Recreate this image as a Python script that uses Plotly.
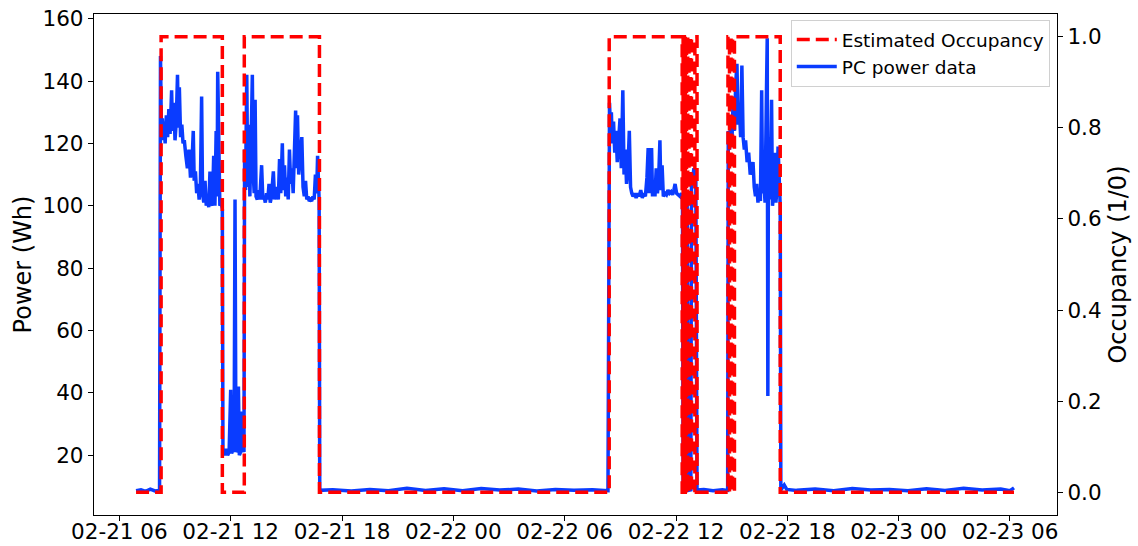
import pandas as pd
import plotly.graph_objects as go

YEAR = "2020-"

# ---- PC power data (time, Wh) ----
power_times = [
    "02-21 06:54", "02-21 07:10", "02-21 07:25", "02-21 07:40", "02-21 07:55", "02-21 08:10",
    "02-21 08:13", "02-21 08:16", "02-21 08:19", "02-21 08:22", "02-21 08:25", "02-21 08:28",
    "02-21 08:32", "02-21 08:36", "02-21 08:40", "02-21 08:44", "02-21 08:49", "02-21 08:52",
    "02-21 08:56", "02-21 09:00", "02-21 09:04", "02-21 09:08", "02-21 09:11", "02-21 09:14",
    "02-21 09:18", "02-21 09:22", "02-21 09:26", "02-21 09:30", "02-21 09:35", "02-21 09:40",
    "02-21 09:45", "02-21 09:50", "02-21 09:55", "02-21 09:59", "02-21 10:02", "02-21 10:06",
    "02-21 10:10", "02-21 10:14", "02-21 10:18", "02-21 10:22", "02-21 10:26", "02-21 10:29",
    "02-21 10:33", "02-21 10:37", "02-21 10:41", "02-21 10:45", "02-21 10:49", "02-21 10:53",
    "02-21 10:57", "02-21 11:01", "02-21 11:05", "02-21 11:09", "02-21 11:13", "02-21 11:16",
    "02-21 11:18", "02-21 11:21", "02-21 11:25", "02-21 11:29", "02-21 11:33",
    "02-21 11:35", "02-21 11:40", "02-21 11:45", "02-21 11:50", "02-21 11:55", "02-21 12:00",
    "02-21 12:03", "02-21 12:07", "02-21 12:11", "02-21 12:14", "02-21 12:17", "02-21 12:21",
    "02-21 12:25", "02-21 12:28", "02-21 12:32", "02-21 12:36", "02-21 12:40", "02-21 12:43",
    "02-21 12:45", "02-21 12:48", "02-21 12:52", "02-21 12:55", "02-21 12:59", "02-21 13:02",
    "02-21 13:06", "02-21 13:10", "02-21 13:13", "02-21 13:16", "02-21 13:19", "02-21 13:22",
    "02-21 13:26", "02-21 13:30", "02-21 13:34", "02-21 13:40", "02-21 13:44", "02-21 13:48",
    "02-21 13:52", "02-21 13:56", "02-21 14:00", "02-21 14:04", "02-21 14:08", "02-21 14:12",
    "02-21 14:18", "02-21 14:22", "02-21 14:26", "02-21 14:30", "02-21 14:34", "02-21 14:38",
    "02-21 14:42", "02-21 14:47", "02-21 14:50", "02-21 14:54", "02-21 14:58", "02-21 15:02",
    "02-21 15:06", "02-21 15:10", "02-21 15:14", "02-21 15:18", "02-21 15:22", "02-21 15:26",
    "02-21 15:30", "02-21 15:33", "02-21 15:36", "02-21 15:40", "02-21 15:45", "02-21 15:50",
    "02-21 15:54", "02-21 15:58", "02-21 16:02", "02-21 16:06", "02-21 16:10", "02-21 16:14",
    "02-21 16:18", "02-21 16:22", "02-21 16:26", "02-21 16:30", "02-21 16:34", "02-21 16:38",
    "02-21 16:41", "02-21 16:44", "02-21 16:46",
    "02-21 16:48", "02-21 17:30", "02-21 18:30", "02-21 19:30", "02-21 20:30", "02-21 21:30",
    "02-21 22:30", "02-21 23:30", "02-22 00:30", "02-22 01:30", "02-22 02:30", "02-22 03:30",
    "02-22 04:30", "02-22 05:30", "02-22 06:30", "02-22 07:30", "02-22 08:20",
    "02-22 08:25", "02-22 08:28", "02-22 08:31", "02-22 08:34", "02-22 08:38", "02-22 08:42",
    "02-22 08:46", "02-22 08:50", "02-22 08:54", "02-22 08:59", "02-22 09:03", "02-22 09:08",
    "02-22 09:12", "02-22 09:16", "02-22 09:20", "02-22 09:25", "02-22 09:29", "02-22 09:33",
    "02-22 09:37", "02-22 09:41", "02-22 09:46", "02-22 09:51", "02-22 09:56", "02-22 10:01",
    "02-22 10:06", "02-22 10:11", "02-22 10:16", "02-22 10:21", "02-22 10:26", "02-22 10:30",
    "02-22 10:33", "02-22 10:37", "02-22 10:41", "02-22 10:44", "02-22 10:48", "02-22 10:52",
    "02-22 10:56", "02-22 11:00", "02-22 11:04", "02-22 11:08", "02-22 11:11", "02-22 11:15",
    "02-22 11:19", "02-22 11:24", "02-22 11:29", "02-22 11:34", "02-22 11:39", "02-22 11:44",
    "02-22 11:49", "02-22 11:53", "02-22 11:57", "02-22 12:02", "02-22 12:08", "02-22 12:13",
    "02-22 12:18", "02-22 12:21",
    "02-22 12:23", "02-22 12:29", "02-22 12:31", "02-22 12:36", "02-22 12:39", "02-22 12:48",
    "02-22 12:50", "02-22 12:58", "02-22 13:04", "02-22 13:08",
    "02-22 13:30", "02-22 14:00", "02-22 14:30", "02-22 14:47",
    "02-22 14:49", "02-22 14:53", "02-22 14:57", "02-22 15:01", "02-22 15:05", "02-22 15:09",
    "02-22 15:13", "02-22 15:17", "02-22 15:21", "02-22 15:25", "02-22 15:29", "02-22 15:33",
    "02-22 15:37", "02-22 15:41", "02-22 15:45", "02-22 15:50", "02-22 15:55", "02-22 16:00",
    "02-22 16:05", "02-22 16:09", "02-22 16:13", "02-22 16:17", "02-22 16:21", "02-22 16:25",
    "02-22 16:29", "02-22 16:33", "02-22 16:37", "02-22 16:40", "02-22 16:44", "02-22 16:48",
    "02-22 16:52", "02-22 16:55", "02-22 16:57", "02-22 16:59", "02-22 17:02", "02-22 17:05",
    "02-22 17:09", "02-22 17:12", "02-22 17:16", "02-22 17:20", "02-22 17:23", "02-22 17:27",
    "02-22 17:30", "02-22 17:34", "02-22 17:37",
    "02-22 17:39", "02-22 17:50", "02-22 17:58", "02-22 18:30", "02-22 19:30", "02-22 20:30",
    "02-22 21:30", "02-22 22:30", "02-22 23:30", "02-23 00:30", "02-23 01:30", "02-23 02:30",
    "02-23 03:30", "02-23 04:30", "02-23 05:30", "02-23 06:00", "02-23 06:13",
]
power_values = [
    8.6, 8.9, 8.4, 9.1, 8.5, 8.7,
    148, 124, 128, 121, 127, 120,
    129, 122, 131, 123, 137, 124,
    133, 121, 127, 142, 125, 138,
    122, 126, 120, 121, 116, 112,
    118, 109, 114, 124, 108, 111,
    104, 107, 102, 106, 135, 104,
    101, 108, 100, 103, 99.5, 111,
    101, 100, 116, 100, 124, 103,
    143, 112, 100, 101, 99,
    21, 20, 22, 20, 21, 41,
    20.5, 22, 21, 102, 21, 22,
    42, 20, 21, 34, 22, 21,
    118, 105, 142, 106, 126, 103,
    120, 142, 110, 104, 134, 103,
    102, 105, 102, 113, 102, 103,
    101, 104, 102, 107, 101, 103,
    111, 102, 104, 106, 102, 115,
    104, 120, 105, 113, 103, 109,
    102, 118, 107, 112, 104, 120,
    130.5, 112, 129, 110, 115, 122,
    106, 103, 108, 102, 103, 101.5,
    102, 101.5, 103, 102, 110, 104,
    116, 103, 102,
    8.7, 8.9, 8.5, 9.0, 8.6, 9.4,
    8.7, 9.2, 8.6, 9.3, 8.8, 9.1,
    8.5, 9.0, 8.7, 8.9, 8.6,
    133, 125, 130, 120, 127, 117,
    124, 114, 121, 128, 112, 137,
    110, 118, 107, 113, 124, 106,
    104, 103, 104, 102.5, 104, 103,
    105, 102.5, 104, 103, 109, 118.5,
    104, 110, 118.5, 103, 106, 103,
    112, 104, 109, 121, 105, 113,
    103, 104, 103.5, 105, 104, 104.5,
    103.5, 105, 107, 104, 103.5, 103,
    104, 103,
    8.8, 9.0, 104, 105, 8.7, 8.9,
    106, 112, 110, 8.8,
    9.0, 8.6, 8.9, 8.7,
    124, 118, 128, 121, 135, 124,
    139, 145.5, 126, 131, 122, 145,
    122, 118, 121, 114, 117, 110,
    112, 114, 106, 103, 107, 101,
    104, 101.5, 137, 104, 108, 101,
    133, 153.7, 39, 122, 102, 110,
    134, 100, 104, 117, 101, 106,
    119, 102, 100,
    8.8, 10.4, 9.0, 8.7, 9.1, 8.6,
    9.3, 8.8, 9.0, 8.6, 9.2, 8.7,
    9.4, 8.8, 9.1, 8.6, 9.5,
]

# ---- Estimated occupancy (step 1/0) ----
occ_times = [
    "02-21 06:54", "02-21 08:15", "02-21 11:33", "02-21 12:44", "02-21 16:47",
    "02-22 08:24", "02-22 12:20", "02-22 12:23", "02-22 12:27", "02-22 12:30",
    "02-22 12:34", "02-22 12:38", "02-22 12:42", "02-22 12:46", "02-22 12:50",
    "02-22 13:01", "02-22 13:08",
    "02-22 14:48", "02-22 14:53", "02-22 14:58", "02-22 15:03", "02-22 15:09",
    "02-22 17:37", "02-23 06:13",
]
occ_values = [
    0, 1, 0, 1, 0,
    1, 0, 1, 0, 1,
    0, 1, 0, 1, 0,
    1, 0,
    1, 0, 1, 0, 1,
    0, 0,
]

x_range = ["02-21 04:38", "02-23 08:32"]
power_ticks = [20, 40, 60, 80, 100, 120, 140, 160]
occ_ticks = [0.0, 0.2, 0.4, 0.6, 0.8, 1.0]

to_dt = lambda lst: pd.to_datetime([YEAR + s for s in lst])

FONT = "DejaVu Sans"
BLUE = "#0a3cff"
RED = "#ff0000"

fig = go.Figure()
fig.add_trace(go.Scatter(
    x=to_dt(power_times), y=power_values, mode="lines", name="PC power data",
    line=dict(color=BLUE, width=3.5), legendrank=2, yaxis="y",
))
fig.add_trace(go.Scatter(
    x=to_dt(occ_times), y=occ_values, mode="lines", name="Estimated Occupancy",
    line=dict(color=RED, width=3.5, dash="13px,6px", shape="hv"), legendrank=1, yaxis="y2",
))

axis_common = dict(
    showline=True, linecolor="black", linewidth=1.3, ticks="outside", ticklen=5,
    tickwidth=1.3, tickcolor="black", showgrid=False, zeroline=False, automargin=False,
    tickfont=dict(family=FONT, size=21.5, color="black"),
)

fig.update_layout(
    width=1138, height=546,
    margin=dict(l=94, r=81, t=14, b=31, autoexpand=False),
    paper_bgcolor="white", plot_bgcolor="white",
    font=dict(family=FONT, color="black"),
    showlegend=True,
    legend=dict(
        x=0.9925, y=0.988, xanchor="right", yanchor="top", itemwidth=40,
        bgcolor="rgba(255,255,255,0.85)", bordercolor="#d0d0d0", borderwidth=1,
        font=dict(family=FONT, size=18.5, color="black"),
    ),
    xaxis=dict(
        **axis_common, type="date", mirror=True,
        range=list(to_dt(x_range)), ticklabelstandoff=-8,
        tick0=YEAR + "02-21 00:00", dtick=6 * 3600 * 1000, tickformat="%m-%d %H",
    ),
    yaxis=dict(
        **axis_common, range=[0.8, 161.5], tickvals=power_ticks,
        title=dict(text="Power (Wh)", font=dict(family=FONT, size=24, color="black"), standoff=4),
    ),
    yaxis2=dict(
        **axis_common, range=[-0.05, 1.05], tickvals=occ_ticks, tickformat=".1f",
        overlaying="y", side="right", anchor="x",
        title=dict(text="Occupancy (1/0)", font=dict(family=FONT, size=24, color="black"), standoff=8),
    ),
)

fig.write_html(
    "out.html",
    config={"displayModeBar": False},
    post_script="document.body.style.margin='0';document.body.style.overflow='hidden';",
)
